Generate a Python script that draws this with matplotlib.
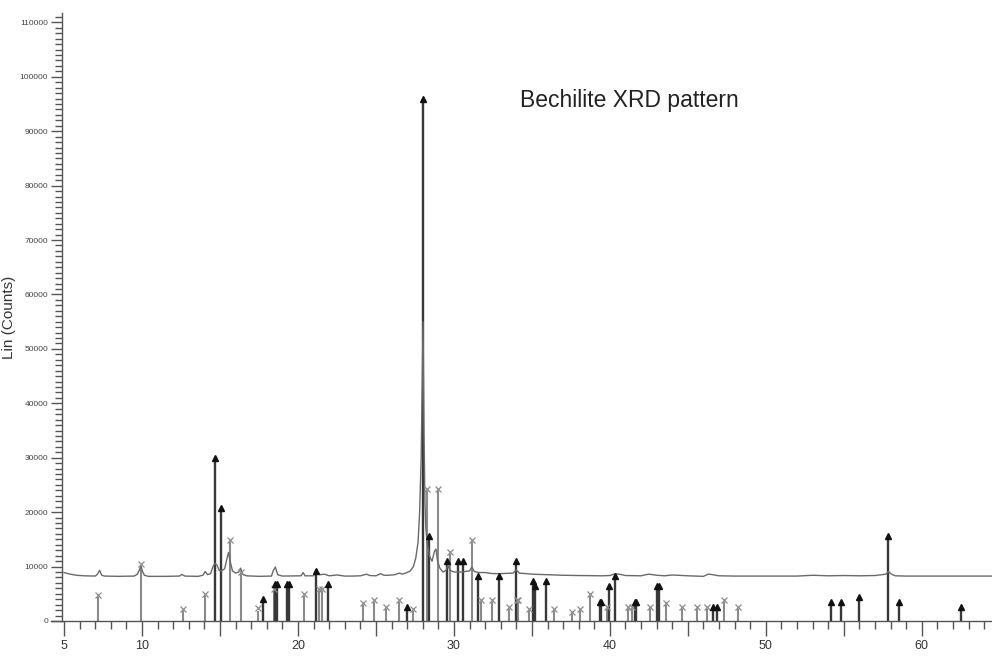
import matplotlib
matplotlib.use("Agg")
import matplotlib.pyplot as plt
from matplotlib.ticker import MultipleLocator, FixedLocator, FuncFormatter

plt.rcParams['font.family'] = ['Liberation Sans', 'DejaVu Sans']

# Measured XRD pattern (2-theta, counts)
pattern_x = [5.0, 5.4, 5.8, 6.3, 7.0, 7.15, 7.28, 7.42, 7.6, 8.5, 9.5, 9.7, 9.85, 9.93, 10.02, 10.15, 10.4,
             11.5, 12.4, 12.55, 12.75, 13.6, 13.9, 14.05, 14.2, 14.4, 14.55, 14.68, 14.8, 14.95, 15.1, 15.3,
             15.45, 15.55, 15.65, 15.8, 16.0, 16.2, 16.32, 16.45, 16.7, 17.5, 18.3, 18.42, 18.55, 18.7, 19.0,
             20.2, 20.33, 20.45, 21.0, 21.15, 21.25, 21.4, 21.7, 22.0, 22.5, 23.0, 23.5, 24.0, 24.4, 24.6,
             25.0, 25.3, 25.5, 25.8, 26.2, 26.5, 26.7, 27.0, 27.2, 27.4, 27.55, 27.7, 27.8, 27.9, 27.96,
             28.02, 28.08, 28.14, 28.2, 28.3, 28.45, 28.6, 28.75, 28.85, 28.95, 29.1, 29.3, 29.5, 29.6,
             29.75, 30.0, 30.5, 31.0, 31.15, 31.3, 31.6, 32.0, 32.5, 33.0, 33.8, 34.0, 34.2, 35.0, 36.0,
             37.0, 38.0, 39.5, 40.0, 40.3, 40.6, 41.0, 42.0, 42.3, 42.5, 43.0, 43.5, 44.0, 45.0, 46.0,
             46.3, 46.5, 47.0, 48.0, 50.0, 52.0, 53.0, 54.0, 55.0, 56.0, 57.0, 57.7, 57.86, 58.05, 58.3,
             59.0, 62.0, 64.5]
pattern_y = [8900, 8600, 8400, 8300, 8250, 8600, 9300, 8400, 8250, 8200, 8250, 8600, 9500, 10100, 9200, 8400, 8200,
             8200, 8250, 8550, 8250, 8200, 8400, 9100, 8500, 8700, 10000, 10600, 10300, 9300, 9200, 9600,
             11500, 12600, 11000, 9200, 8800, 9000, 9700, 8600, 8300, 8200, 8250, 9300, 9900, 8500, 8250,
             8300, 8900, 8300, 8300, 9400, 8900, 8500, 8600, 8300, 8450, 8250, 8250, 8300, 8600, 8350,
             8300, 8700, 8400, 8400, 8500, 8800, 8600, 8900, 9200, 10000, 11500, 14500, 20000, 30000, 42000,
             55000, 35000, 22000, 17000, 14000, 11800, 11000, 12800, 13200, 11000, 9700, 9000, 9300, 10300,
             9300, 9000, 9000, 9200, 9900, 9100, 8900, 8900, 8700, 8700, 8800, 9400, 8800, 8600, 8500,
             8400, 8350, 8300, 8350, 8650, 8600, 8350, 8300, 8500, 8600, 8400, 8300, 8450, 8300, 8200,
             8600, 8550, 8300, 8250, 8250, 8250, 8400, 8300, 8350, 8300, 8350, 8600, 9100, 8600, 8300,
             8250, 8250, 8250]

# Reference phase 1 (triangles)
tri_x = [14.68, 15.06, 17.78, 18.55, 18.65, 19.28, 19.40, 21.13, 21.95, 27.00, 28.04, 28.42, 29.55, 30.24,
         30.60, 31.52, 32.92, 33.95, 35.04, 35.19, 35.92, 39.35, 39.45, 39.95, 40.34, 41.60, 41.70, 43.05,
         43.15, 46.60, 46.88, 54.17, 54.83, 55.96, 57.86, 58.55, 62.50]
tri_h = [29400, 20200, 3600, 6300, 6300, 6300, 6300, 8700, 6300, 2000, 95500, 15200, 10600, 10600,
         10600, 7800, 7800, 10600, 6900, 6000, 6900, 3000, 3000, 6000, 7700, 2900, 2900, 5900,
         5900, 2000, 2000, 2900, 2900, 3900, 15200, 2900, 2000]

# Reference phase 2 (crosses)
crs_x = [7.16, 9.94, 12.65, 14.04, 15.64, 16.37, 17.46, 18.48, 20.38, 21.37, 21.52, 24.17, 24.90, 25.62,
         26.50, 27.37, 28.29, 29.00, 29.74, 31.13, 31.73, 32.42, 33.55, 34.05, 34.12, 34.81, 36.43, 37.60,
         38.08, 38.70, 39.84, 41.17, 41.40, 42.55, 43.57, 44.60, 45.58, 46.22, 47.31, 48.19]
crs_h = [4400, 10100, 1800, 4500, 14500, 8600, 1900, 5500, 4500, 5500, 5500, 2900, 3400, 2200,
         3400, 1800, 23800, 23800, 12300, 14500, 3400, 3400, 2200, 3400, 3400, 1800, 1800, 1300,
         1800, 4500, 2200, 2200, 2200, 2200, 2900, 2200, 2200, 2200, 3400, 2200]

x_major = [5, 10, 15, 20, 25, 30, 35, 40, 45, 50, 55, 60]
x_labeled = [5, 10, 20, 30, 40, 50, 60]

fig = plt.figure(figsize=(9.92, 6.56), dpi=100)
ax = fig.add_axes([0.0625, 0.0534, 0.9375, 0.9266])

ax.vlines(crs_x, 0, crs_h, colors='#8a8a8a', linewidth=1.5, zorder=2)
ax.vlines(tri_x, 0, tri_h, colors='#383838', linewidth=1.7, zorder=2)
ax.plot(pattern_x, pattern_y, color='#6a6a6a', linewidth=1.0, zorder=3)
ax.plot(crs_x, [h + 400 for h in crs_h], linestyle='none', marker='x', markersize=5,
        markeredgewidth=0.9, color='#8a8a8a', zorder=4)
ax.plot(tri_x, [h + 500 for h in tri_h], linestyle='none', marker='^', markersize=5,
        color='#111111', zorder=5)

ax.set_xlim(4.87, 64.5)
ax.set_ylim(0, 111700)

for s in ['top', 'right']:
    ax.spines[s].set_visible(False)
for s in ['left', 'bottom']:
    ax.spines[s].set_color('#555555')
    ax.spines[s].set_linewidth(1.0)
ax.plot([-0.012, 0], [0, 0], transform=ax.transAxes, color='#555555', linewidth=1.0, clip_on=False)

ax.xaxis.set_major_locator(FixedLocator(x_major))
ax.xaxis.set_minor_locator(MultipleLocator(1))
ax.xaxis.set_major_formatter(FuncFormatter(lambda v, p: f"{int(round(v))}" if int(round(v)) in x_labeled else ""))
ax.tick_params(axis='x', which='major', direction='out', length=11, width=1.0, color='#555555',
               labelsize=9, labelcolor='#333333', pad=3)
ax.tick_params(axis='x', which='minor', direction='out', length=6, width=1.0, color='#555555')

ax.yaxis.set_major_locator(MultipleLocator(10000))
ax.yaxis.set_minor_locator(MultipleLocator(1000))
ax.yaxis.set_major_formatter(FuncFormatter(lambda v, p: f"{int(round(v))}"))
ax.tick_params(axis='y', which='major', direction='out', length=8, width=1.0, color='#555555',
               labelsize=6, labelcolor='#444444', pad=2)
ax.tick_params(axis='y', which='minor', direction='out', length=5, width=1.0, color='#555555')

ax.set_ylabel("Lin (Counts)", fontsize=11, color='#333333')
ax.yaxis.set_label_coords(-0.0495, 0.5)

ax.text(0.61, 0.857, "Bechilite XRD pattern", transform=ax.transAxes, fontsize=16.5,
        color='#222222', ha='center', va='center')

fig.savefig("out.png", dpi=100)
